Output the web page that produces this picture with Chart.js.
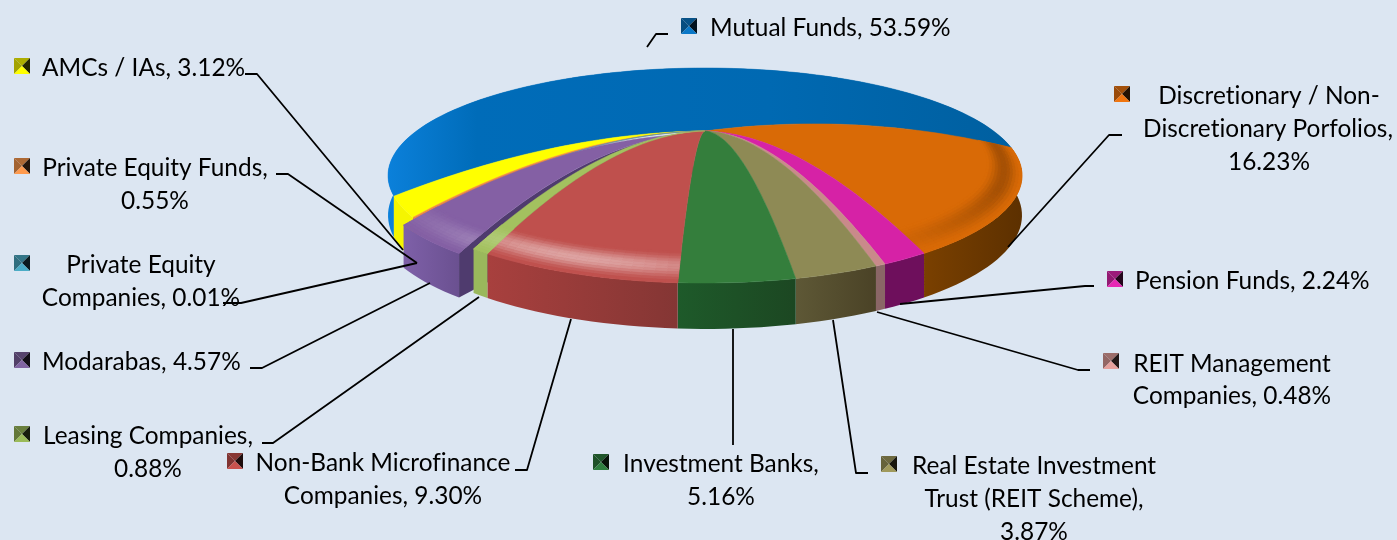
<!DOCTYPE html>
<html>
<head>
<meta charset="utf-8">
<title>Chart</title>
<script src="https://cdn.jsdelivr.net/npm/chart.js@4/dist/chart.umd.min.js"></script>
<style>
  html, body { margin: 0; padding: 0; background: #dce6f2; overflow: hidden; }
  canvas { display: block; }
</style>
</head>
<body>
<canvas id="pie" width="1397" height="540"></canvas>
<script>
const categories = ['Mutual Funds', 'Discretionary / Non-Discretionary Porfolios', 'Pension Funds',
  'REIT Management Companies', 'Real Estate Investment Trust (REIT Scheme)', 'Investment Banks',
  'Non-Bank Microfinance Companies', 'Leasing Companies', 'Modarabas', 'Private Equity Companies',
  'Private Equity Funds', 'AMCs / IAs'];
const shares = [53.59, 16.23, 2.24, 0.48, 3.87, 5.16, 9.30, 0.88, 4.57, 0.01, 0.55, 3.12];
const pulledOut = [0, 0, 0, 0, 0, 0, 0, 0, 13, 0, 0, 0];

const faceColors = ['#0069b4', '#d96a06', '#d622a6', '#c98a8a', '#8e8a55', '#347e3c',
  '#bf504d', '#a3c15f', '#8460a4', '#3f9ab5', '#f08a40', '#ffff00'];
const wallLeft = ['#0073c6', '#7a4000', '#6e0f5c', '#8a6666', '#5e5836', '#1e5a2a',
  '#a8403e', '#9ab85c', '#7e60a8', '#3a8ea6', '#e08030', '#f5f500'];
const wallRight = ['#0073c6', '#5c3000', '#6e0f5c', '#8a6666', '#4a4226', '#1c4722',
  '#843634', '#9ab85c', '#6a5090', '#3a8ea6', '#e08030', '#f5f500'];
const keyColors = ['#0a78c8', '#f0750f', '#e628b4', '#e6a09c', '#a09a5c', '#2f7f3f',
  '#c8524e', '#9bbb59', '#8064a2', '#4bacc6', '#ff9a4d', '#ffff00'];
const rimLight = [0, 0, 0, 0, 0, 0, 0.48, 0.2, 0.3, 0, 0, 0];
const rimDark = [0, 0.24, 0, 0, 0, 0, 0, 0, 0, 0, 0, 0];
// back slices first, so the pulled out slice and the front ones sit on top
const drawOrder = [0, 11, 10, 9, 8, 1, 2, 3, 4, 5, 6, 7];

// label layout: key square, text lines [text, x, y], leader polyline
const labelLayout = [
  { key: [681, 18], align: 'left', lines: [['Mutual Funds, 53.59%', 710, 28]], leader: [[647, 47], [656, 34], [668, 34]] },
  { key: [1114, 86], align: 'center', lines: [['Discretionary / Non-', 1269, 96], ['Discretionary Porfolios,', 1268, 129], ['16.23%', 1269, 162]], leader: [[1008, 247], [1109, 135], [1122, 135]] },
  { key: [1107, 271], align: 'left', lines: [['Pension Funds, 2.24%', 1135, 281]], leader: [[900, 304], [1085, 286], [1094, 286]] },
  { key: [1103, 353], align: 'center', lines: [['REIT Management', 1232, 364], ['Companies, 0.48%', 1232, 396]], leader: [[877, 312], [1078, 370], [1090, 370]] },
  { key: [881, 456], align: 'center', lines: [['Real Estate Investment', 1034, 466], ['Trust (REIT Scheme),', 1034, 499], ['3.87%', 1034, 532]], leader: [[833, 320], [856, 473], [868, 473]] },
  { key: [593, 454], align: 'center', lines: [['Investment Banks,', 721, 464], ['5.16%', 721, 497]], leader: [[733, 329], [733, 445]] },
  { key: [227, 453], align: 'center', lines: [['Non-Bank Microfinance', 383, 463], ['Companies, 9.30%', 383, 496]], leader: [[571, 319], [527, 470], [515, 470]] },
  { key: [14, 426], align: 'center', lines: [['Leasing Companies,', 148, 436], ['0.88%', 148, 469]], leader: [[479, 297], [273, 443], [262, 443]] },
  { key: [14, 352], align: 'left', lines: [['Modarabas, 4.57%', 42, 362]], leader: [[430, 283], [262, 368], [250, 368]] },
  { key: [14, 255], align: 'center', lines: [['Private Equity', 141, 265], ['Companies, 0.01%', 141, 298]], leader: [[417, 263], [241, 303], [223, 303]] },
  { key: [14, 158], align: 'center', lines: [['Private Equity Funds,', 155, 168], ['0.55%', 155, 201]], leader: [[417, 263], [288, 174], [276, 174]] },
  { key: [14, 58], align: 'left', lines: [['AMCs / IAs, 3.12%', 42, 68]], leader: [[403, 250], [257, 74], [245, 74]] }
];

// view of the pie: perspective disc with a domed top
const view = { cx: 705, cy: 159.4, rx: 313.4, ry: 105.1, persp: 0.15, depth: 39, dome: 28.4 };

function hexToRgb(hex) {
  const n = parseInt(hex.slice(1), 16);
  return [n >> 16, (n >> 8) & 255, n & 255];
}

function mix(hex, target, amount) {
  const c = hexToRgb(hex);
  return `rgb(${c.map(v => Math.round(v + (target - v) * amount)).join(',')})`;
}

// height of the dome; it bulges more on the side facing the viewer
function domeAt(r, angle) {
  const bulge = 0.25 + 0.9 * Math.max(0, Math.sin(angle) - 0.3);
  return 1 - r * r + bulge * 4 * r * (1 - r);
}

function project(r, angle, shift, h) {
  const u = r * Math.cos(angle) + shift.u;
  const v = r * Math.sin(angle) + shift.v;
  const w = 1 - view.persp * v;
  return [
    view.cx + view.rx * u / w,
    view.cy + (view.ry * v + view.depth * h) / w - view.dome * domeAt(r, angle)
  ];
}

function tracePoints(ctx, points) {
  ctx.beginPath();
  points.forEach((p, i) => (i ? ctx.lineTo(p[0], p[1]) : ctx.moveTo(p[0], p[1])));
  ctx.closePath();
}

function arcSteps(a0, a1) {
  return Math.max(1, Math.ceil((a1 - a0) / (Math.PI / 90)));
}

function blueFill(ctx) {
  const fill = ctx.createLinearGradient(388, 0, 1022, 0);
  fill.addColorStop(0, '#0b80da');
  fill.addColorStop(0.14, '#006cb9');
  fill.addColorStop(0.6, '#0069b2');
  fill.addColorStop(1, '#005f9f');
  return fill;
}

function drawWall(ctx, el, i, shift) {
  const n = arcSteps(el.startAngle, el.endAngle);
  const top = [], bottom = [];
  for (let s = 0; s <= n; s++) {
    const a = el.startAngle + (el.endAngle - el.startAngle) * s / n;
    top.push(project(1, a, shift, 0));
    bottom.push(project(1, a, shift, 1));
  }
  const all = top.concat(bottom.reverse());
  const xs = all.map(p => p[0]);
  let grad = ctx.createLinearGradient(Math.min(...xs), 0, Math.max(...xs) + 1, 0);
  grad.addColorStop(0, wallLeft[i]);
  grad.addColorStop(1, wallRight[i]);
  if (i === 0) grad = blueFill(ctx);
  tracePoints(ctx, all);
  ctx.fillStyle = grad;
  ctx.fill();
}

function drawCutWall(ctx, el, shift, color) {
  const pts = [];
  for (let s = 0; s <= 24; s++) pts.push(project(s / 24, el.startAngle, shift, 0));
  pts.push(project(1, el.startAngle, shift, 1));
  pts.push(project(0, el.startAngle, shift, 1));
  tracePoints(ctx, pts);
  ctx.fillStyle = color;
  ctx.fill();
}

function drawFace(ctx, el, i, shift) {
  const pts = [];
  for (let s = 0; s <= 32; s++) pts.push(project(s / 32, el.startAngle, shift, 0));
  const n = arcSteps(el.startAngle, el.endAngle);
  for (let s = 1; s <= n; s++) pts.push(project(1, el.startAngle + (el.endAngle - el.startAngle) * s / n, shift, 0));
  for (let s = 32; s >= 0; s--) pts.push(project(s / 32, el.endAngle, shift, 0));
  tracePoints(ctx, pts);
  const fill = i === 0 ? blueFill(ctx) : faceColors[i];
  ctx.fillStyle = fill;
  ctx.strokeStyle = fill;
  ctx.lineWidth = 0.5;
  ctx.fill();
  ctx.stroke();
  if (rimLight[i] || rimDark[i]) drawBevel(ctx, el, i, shift);
}

// soft rounded rim, only on the slices that show it
function drawBevel(ctx, el, i, shift) {
  const n = arcSteps(el.startAngle, el.endAngle);
  const bands = 12, inner = 0.89;
  for (let s = 0; s < n; s++) {
    const a0 = el.startAngle + (el.endAngle - el.startAngle) * s / n;
    const a1 = el.startAngle + (el.endAngle - el.startAngle) * (s + 1) / n;
    const deg = ((a0 + a1) / 2) * 180 / Math.PI;
    const c = Math.max(0, Math.cos((deg - 112) * Math.PI / 180));
    const light = rimLight[i] * Math.pow(c, 8);
    const dark = rimDark[i] * Math.min(1, (60 - deg) / 40);
    for (let b = 0; b < bands; b++) {
      const r0 = inner + (1 - inner) * b / bands;
      const r1 = inner + (1 - inner) * (b + 1) / bands;
      const prof = Math.pow(Math.sin(Math.PI * (b + 0.5) / bands), 2);
      const color = dark > 0 ? mix(faceColors[i], 0, dark * prof) : mix(faceColors[i], 255, light * prof);
      tracePoints(ctx, [project(r0, a0, shift, 0), project(r1, a0, shift, 0), project(r1, a1, shift, 0), project(r0, a1, shift, 0)]);
      ctx.fillStyle = color;
      ctx.strokeStyle = color;
      ctx.lineWidth = 0.6;
      ctx.fill();
      ctx.stroke();
    }
  }
}

function drawKey(ctx, x, y, color) {
  const s = 16, mx = x + s / 2, my = y + s / 2;
  const tri = (a, b, fill) => {
    tracePoints(ctx, [a, b, [mx, my]]);
    ctx.fillStyle = fill;
    ctx.fill();
  };
  tri([x, y], [x + s, y], mix(color, 0, 0.32));
  tri([x, y], [x, y + s], mix(color, 0, 0.36));
  tri([x + s, y], [x + s, y + s], mix(color, 0, 0.85));
  tri([x, y + s], [x + s, y + s], color);
}

function drawLabels(ctx) {
  labelLayout.forEach((item, i) => {
    drawKey(ctx, item.key[0], item.key[1], keyColors[i]);
    ctx.fillStyle = '#000000';
    ctx.font = '24.4px Lato';
    ctx.letterSpacing = '0.01px';
    ctx.textAlign = item.align;
    ctx.textBaseline = 'middle';
    item.lines.forEach(l => ctx.fillText(l[0], l[1], l[2]));
  });
  ctx.strokeStyle = '#000000';
  ctx.lineWidth = 1.8;
  ctx.lineJoin = 'round';
  labelLayout.forEach(item => {
    ctx.beginPath();
    item.leader.forEach((p, i) => (i ? ctx.lineTo(p[0], p[1]) : ctx.moveTo(p[0], p[1])));
    ctx.stroke();
  });
}

const tiltedPie = {
  id: 'tiltedPie',
  beforeDatasetDraw(chart, args) {
    const ctx = chart.ctx;
    const arcs = chart.getDatasetMeta(args.index).data;
    ctx.save();
    drawOrder.forEach(i => {
      const el = arcs[i];
      const mid = (el.startAngle + el.endAngle) / 2;
      const o = (el.options.offset || 0) / el.outerRadius;
      const shift = { u: o * Math.cos(mid), v: o * Math.sin(mid) };
      drawWall(ctx, el, i, shift);
      if (o > 0) drawCutWall(ctx, el, shift, '#4f3b6e');
      drawFace(ctx, el, i, shift);
    });
    drawLabels(ctx);
    ctx.restore();
    return false;
  }
};

new Chart(document.getElementById('pie'), {
  type: 'pie',
  data: {
    labels: categories,
    datasets: [{ data: shares, backgroundColor: faceColors, offset: pulledOut, borderWidth: 0 }]
  },
  options: {
    responsive: false,
    animation: false,
    rotation: -109.4,
    plugins: { legend: { display: false }, tooltip: { enabled: false } }
  },
  plugins: [tiltedPie]
});
</script>
</body>
</html>
